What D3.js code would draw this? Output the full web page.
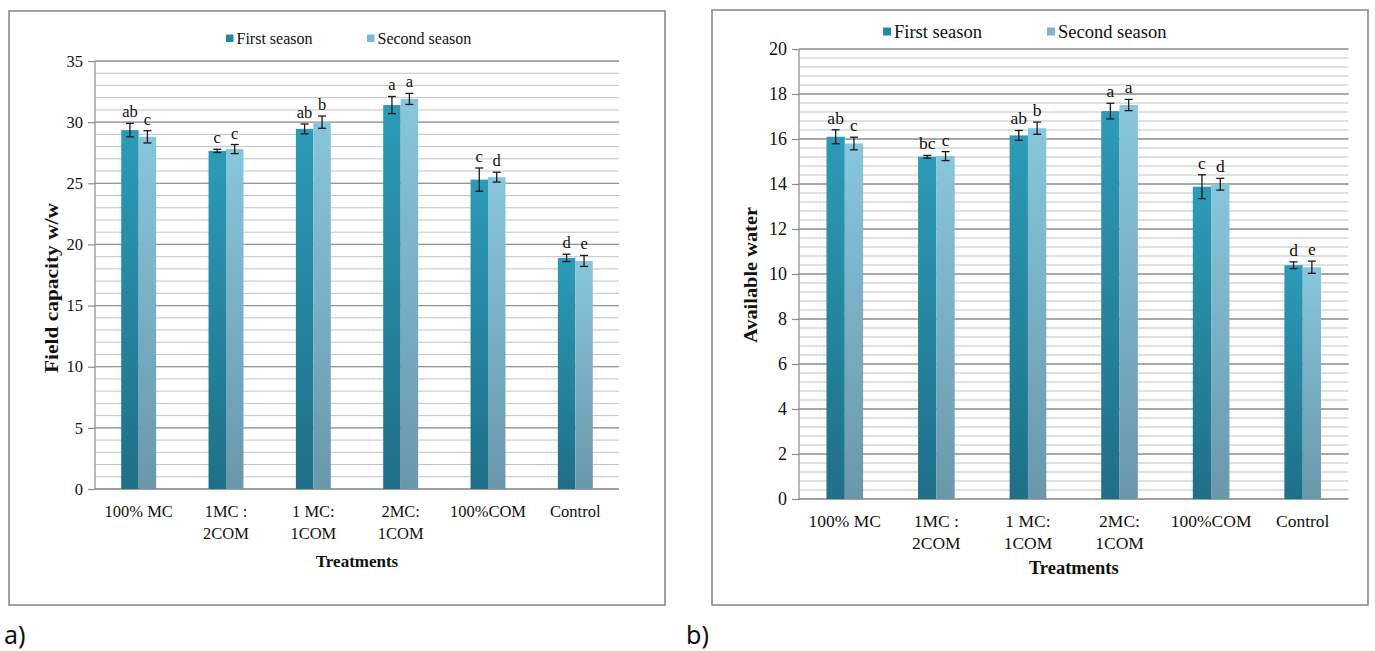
<!DOCTYPE html>
<html>
<head>
<meta charset="utf-8">
<script src="https://cdn.jsdelivr.net/npm/d3@7/dist/d3.min.js"></script>
<style>
  html, body { margin: 0; padding: 0; background: #ffffff; }
  svg { display: block; }
</style>
</head>
<body>
<svg id="chart" width="1375" height="651"></svg>
<script>
// ---------------- DATA ----------------
const categoryLines = [["100% MC"], ["1MC :", "2COM"], ["1 MC:", "1COM"], ["2MC:", "1COM"], ["100%COM"], ["Control"]];
const seriesNames = ["First season", "Second season"];

// a) Field capacity w/w
const fcFirst = [29.35, 27.65, 29.45, 31.4, 25.3, 18.9];
const fcSecond = [28.8, 27.8, 30.0, 31.9, 25.5, 18.65];
const fcErrFirst = [0.55, 0.13, 0.4, 0.7, 0.95, 0.3];
const fcErrSecond = [0.5, 0.37, 0.5, 0.45, 0.4, 0.45];
const fcLettersFirst = ["ab", "c", "ab", "a", "c", "d"];
const fcLettersSecond = ["c", "c", "b", "a", "d", "e"];
const fcTicks = [0, 5, 10, 15, 20, 25, 30, 35];

// b) Available water
const awFirst = [16.1, 15.21, 16.16, 17.24, 13.88, 10.39];
const awSecond = [15.8, 15.24, 16.48, 17.51, 13.99, 10.3];
const awErrFirst = [0.31, 0.06, 0.22, 0.35, 0.53, 0.15];
const awErrSecond = [0.28, 0.2, 0.27, 0.25, 0.26, 0.27];
const awLettersFirst = ["ab", "bc", "ab", "a", "c", "d"];
const awLettersSecond = ["c", "c", "b", "a", "d", "e"];
const awTicks = [0, 2, 4, 6, 8, 10, 12, 14, 16, 18, 20];

// ---------------- DRAWING ----------------
const svg = d3.select("#chart");
const SERIF = "'Liberation Serif', 'Times New Roman', serif";

const defs = svg.append("defs");
function grad(id, top, bottom) {
  const g = defs.append("linearGradient").attr("id", id)
    .attr("x1", 0).attr("y1", 0).attr("x2", 0).attr("y2", 1);
  g.append("stop").attr("offset", "0%").attr("stop-color", top);
  g.append("stop").attr("offset", "100%").attr("stop-color", bottom);
}
grad("gFirst", "#2c9bb8", "#1f6f87");
grad("gSecond", "#87c6dc", "#6a97aa");
const fills = ["url(#gFirst)", "url(#gSecond)"];
const legendFills = ["#2687a3", "#7ab8cf"];

function drawChart(cfg) {
  const g = svg.append("g");
  // frame
  g.append("rect").attr("x", cfg.frame[0]).attr("y", cfg.frame[1])
    .attr("width", cfg.frame[2] - cfg.frame[0]).attr("height", cfg.frame[3] - cfg.frame[1])
    .attr("fill", "#fff").attr("stroke", "#8a8a8a").attr("stroke-width", 1.6);

  const x0 = d3.scaleBand().domain(d3.range(categoryLines.length))
    .range(cfg.xRange).paddingInner(0.6).paddingOuter(0.3);
  const x1 = d3.scaleBand().domain([0, 1]).range([0, x0.bandwidth()]);
  const y = d3.scaleLinear().domain([0, cfg.yMax]).range(cfg.yRange);

  // minor gridlines
  const minor = d3.range(0, Math.round(cfg.yMax / cfg.minorStep) + 1).map(i => i * cfg.minorStep);
  g.append("g").selectAll("line").data(minor).join("line")
    .attr("x1", cfg.xRange[0]).attr("x2", cfg.xRange[1])
    .attr("y1", d => y(d)).attr("y2", d => y(d))
    .attr("stroke", "#c2c2c2").attr("stroke-width", 1);
  // major gridlines
  g.append("g").selectAll("line").data(cfg.ticks.filter(t => t > 0)).join("line")
    .attr("x1", cfg.xRange[0]).attr("x2", cfg.xRange[1])
    .attr("y1", d => y(d)).attr("y2", d => y(d))
    .attr("stroke", "#959595").attr("stroke-width", 1.3);

  // y axis
  const yAxis = d3.axisLeft(y).tickValues(cfg.ticks).tickSize(7).tickPadding(5).tickFormat(d3.format("d"));
  const ya = g.append("g").attr("transform", `translate(${cfg.xRange[0]},0)`).call(yAxis);
  ya.attr("font-family", SERIF);
  ya.select(".domain").attr("stroke", "#8a8a8a").attr("stroke-width", 1.2).attr("d", `M0,${cfg.yRange[0]}V${cfg.yRange[1]}`);
  ya.selectAll(".tick line").attr("stroke", "#8a8a8a").attr("stroke-width", 1.2);
  ya.selectAll(".tick text").attr("font-family", SERIF).attr("font-size", cfg.tickFont).attr("fill", "#111");

  // x baseline
  g.append("line").attr("x1", cfg.xRange[0]).attr("x2", cfg.xRange[1])
    .attr("y1", y(0)).attr("y2", y(0)).attr("stroke", "#8a8a8a").attr("stroke-width", 1.4);

  // bars
  const series = [cfg.first, cfg.second];
  const errs = [cfg.errFirst, cfg.errSecond];
  const letters = [cfg.lettersFirst, cfg.lettersSecond];
  series.forEach((vals, s) => {
    const sg = g.append("g");
    sg.selectAll("rect").data(vals).join("rect")
      .attr("x", (d, i) => x0(i) + x1(s))
      .attr("y", d => y(d))
      .attr("width", x1.bandwidth())
      .attr("height", d => y(0) - y(d))
      .attr("fill", fills[s]);
    // error bars
    const eg = g.append("g").attr("stroke", "#1a1a1a").attr("stroke-width", 1.3);
    vals.forEach((d, i) => {
      const cx = x0(i) + x1(s) + x1.bandwidth() / 2;
      const e = errs[s][i];
      eg.append("line").attr("x1", cx).attr("x2", cx).attr("y1", y(d + e)).attr("y2", y(d - e));
      eg.append("line").attr("x1", cx - 4).attr("x2", cx + 4).attr("y1", y(d + e)).attr("y2", y(d + e));
      eg.append("line").attr("x1", cx - 4).attr("x2", cx + 4).attr("y1", y(d - e)).attr("y2", y(d - e));
      g.append("text").attr("x", cx).attr("y", y(d + e) - 6)
        .attr("text-anchor", "middle").attr("font-family", SERIF)
        .attr("font-size", cfg.letterFont).attr("fill", "#111").text(letters[s][i]);
    });
  });

  // x labels
  categoryLines.forEach((lines, i) => {
    const cx = x0(i) + x0.bandwidth() / 2;
    lines.forEach((ln, k) => {
      g.append("text").attr("x", cx).attr("y", cfg.xLabelY + k * cfg.xLineGap)
        .attr("text-anchor", "middle").attr("font-family", SERIF)
        .attr("font-size", cfg.xFont).attr("fill", "#111").text(ln);
    });
  });

  // axis titles
  g.append("text").attr("x", (cfg.xRange[0] + cfg.xRange[1]) / 2).attr("y", cfg.xTitleY)
    .attr("text-anchor", "middle").attr("font-family", SERIF).attr("font-weight", "bold")
    .attr("font-size", cfg.xTitleFont).attr("fill", "#111").text("Treatments");
  g.append("text").attr("transform", `translate(${cfg.yTitleX},${cfg.yTitleY}) rotate(-90)`)
    .attr("text-anchor", "middle").attr("font-family", SERIF).attr("font-weight", "bold")
    .attr("font-size", cfg.yTitleFont).attr("fill", "#111")
    .attr("textLength", cfg.yTitleLen).attr("lengthAdjust", "spacingAndGlyphs")
    .text(cfg.yTitle);

  // legend
  seriesNames.forEach((name, s) => {
    const lx = cfg.legendX[s];
    g.append("rect").attr("x", lx).attr("y", cfg.legendY - cfg.legendSq - 2)
      .attr("width", cfg.legendSq).attr("height", cfg.legendSq).attr("fill", legendFills[s]);
    g.append("text").attr("x", lx + cfg.legendSq + 3).attr("y", cfg.legendY)
      .attr("font-family", SERIF).attr("font-size", cfg.legendFont).attr("fill", "#111").text(name);
  });

  // panel tag
  svg.append("text").attr("x", cfg.tagX).attr("y", 644)
    .attr("font-family", "'Noto Sans', 'DejaVu Sans', sans-serif")
    .attr("font-size", 25).attr("fill", "#111").text(cfg.tag);
}

drawChart({
  frame: [9, 11, 665, 605],
  xRange: [95, 619], yRange: [489, 61], yMax: 35, minorStep: 1, ticks: fcTicks,
  first: fcFirst, second: fcSecond, errFirst: fcErrFirst, errSecond: fcErrSecond,
  lettersFirst: fcLettersFirst, lettersSecond: fcLettersSecond,
  tickFont: 16.5, letterFont: 16.5, xFont: 16.5, xTitleFont: 17, legendFont: 16,
  xLabelY: 517, xLineGap: 22, xTitleY: 567,
  yTitleX: 58, yTitleY: 288, yTitle: "Field capacity w/w", yTitleFont: 18.5, yTitleLen: 170,
  legendX: [226, 367], legendY: 44, legendSq: 7.5,
  tag: "a)", tagX: 4
});

drawChart({
  frame: [712, 10, 1368, 605],
  xRange: [799, 1348.5], yRange: [499, 49], yMax: 20, minorStep: 0.4, ticks: awTicks,
  first: awFirst, second: awSecond, errFirst: awErrFirst, errSecond: awErrSecond,
  lettersFirst: awLettersFirst, lettersSecond: awLettersSecond,
  tickFont: 18, letterFont: 17.5, xFont: 17.5, xTitleFont: 18.5, legendFont: 18.5,
  xLabelY: 527, xLineGap: 22, xTitleY: 574,
  yTitleX: 757, yTitleY: 275, yTitle: "Available water", yTitleFont: 18.5, yTitleLen: 136,
  legendX: [883, 1047], legendY: 37.5, legendSq: 8,
  tag: "b)", tagX: 686
});
</script>
</body>
</html>
